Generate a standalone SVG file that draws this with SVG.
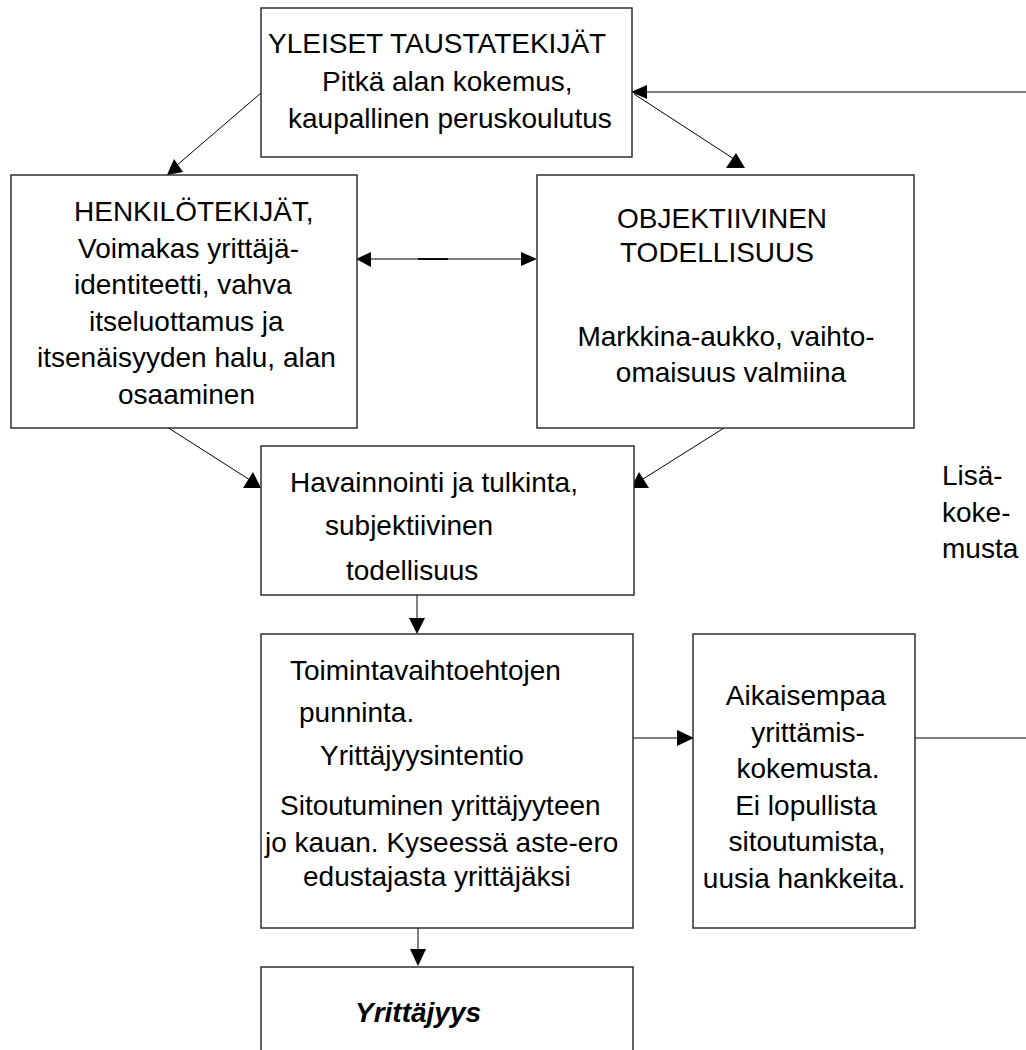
<svg xmlns="http://www.w3.org/2000/svg" width="1026" height="1050" viewBox="0 0 1026 1050">
<style>
.box{fill:#fff;stroke:#222;stroke-width:1.4}
.t{font-family:"Liberation Sans",Arial,sans-serif;font-size:28px;fill:#000}
.m{text-anchor:middle}
.bi{font-weight:bold;font-style:italic}
.ln{stroke:#000;stroke-width:1;fill:none}
.ah{fill:#000;stroke:none}
</style>
<rect width="1026" height="1050" fill="#fff"/>
<g id="connectors">
<line class="ln" x1="261" y1="93" x2="176" y2="166"/>
<polygon class="ah" points="167,175 183,172 174,159"/>
<line class="ln" x1="634" y1="94" x2="734" y2="159"/>
<polygon class="ah" points="736,153 726,168 745,168"/>
<line class="ln" x1="1026" y1="92" x2="645" y2="92"/>
<polygon class="ah" points="631,92 647,85 647,99"/>
<line class="ln" x1="370" y1="259" x2="522" y2="259"/>
<line x1="418" y1="259" x2="448" y2="259" stroke="#000" stroke-width="1.8"/>
<polygon class="ah" points="356,259 371,252 371,267"/>
<polygon class="ah" points="537,259 521,252 521,266"/>
<line class="ln" x1="167" y1="427" x2="250" y2="480"/>
<polygon class="ah" points="253,472 243,488 261,488"/>
<line class="ln" x1="724" y1="428" x2="643" y2="479"/>
<polygon class="ah" points="639,472 631,488 649,488"/>
<line class="ln" x1="417" y1="595" x2="417" y2="620"/>
<polygon class="ah" points="417,634 409,618 425,618"/>
<line class="ln" x1="418" y1="928" x2="418" y2="950"/>
<polygon class="ah" points="418,966 410,949 426,949"/>
<line class="ln" x1="633" y1="738" x2="680" y2="738"/>
<polygon class="ah" points="694,738 677,730 677,746"/>
<line class="ln" x1="915" y1="738" x2="1026" y2="738"/>
</g>
<g id="yleiset">
<rect class="box" x="261" y="8" width="371" height="149"/>
<text class="t" x="268" y="53">YLEISET TAUSTATEKIJÄT</text>
<text class="t" x="322" y="91">Pitkä alan kokemus,</text>
<text class="t" x="288" y="128">kaupallinen peruskoulutus</text>
</g>
<g id="henkilo">
<rect class="box" x="11" y="175" width="346" height="253"/>
<text class="t" x="74" y="221">HENKILÖTEKIJÄT,</text>
<text class="t" x="78" y="258">Voimakas yrittäjä-</text>
<text class="t" x="74" y="294">identiteetti, vahva</text>
<text class="t" x="89" y="331">itseluottamus ja</text>
<text class="t" x="37" y="367">itsenäisyyden halu, alan</text>
<text class="t" x="118" y="404">osaaminen</text>
</g>
<g id="objektiivinen">
<rect class="box" x="537" y="175" width="377" height="253"/>
<text class="t" x="617" y="228">OBJEKTIIVINEN</text>
<text class="t" x="620" y="262">TODELLISUUS</text>
<text class="t m" x="726" y="346">Markkina-aukko, vaihto-</text>
<text class="t m" x="731" y="382">omaisuus valmiina</text>
</g>
<g id="havainnointi">
<rect class="box" x="261" y="446" width="373" height="149"/>
<text class="t" x="290" y="492">Havainnointi ja tulkinta,</text>
<text class="t" x="325" y="535">subjektiivinen</text>
<text class="t" x="346" y="580">todellisuus</text>
</g>
<g id="toiminta">
<rect class="box" x="261" y="634" width="372" height="294"/>
<text class="t" x="290" y="680">Toimintavaihtoehtojen</text>
<text class="t" x="299" y="722">punninta.</text>
<text class="t" x="320" y="765">Yrittäjyysintentio</text>
<text class="t" x="280" y="815">Sitoutuminen yrittäjyyteen</text>
<text class="t" x="265" y="852">jo kauan. Kyseessä aste-ero</text>
<text class="t" x="303" y="886">edustajasta yrittäjäksi</text>
</g>
<g id="aikaisempaa">
<rect class="box" x="693" y="634" width="222" height="294"/>
<text class="t m" x="806" y="705">Aikaisempaa</text>
<text class="t m" x="808" y="742">yrittämis-</text>
<text class="t m" x="808" y="778">kokemusta.</text>
<text class="t m" x="806" y="815">Ei lopullista</text>
<text class="t m" x="807" y="851">sitoutumista,</text>
<text class="t m" x="804" y="888">uusia hankkeita.</text>
</g>
<g id="yrittajyys">
<rect class="box" x="261" y="967" width="372" height="120"/>
<text class="t bi" x="355" y="1022">Yrittäjyys</text>
</g>
<g id="lisakokemusta">
<text class="t" x="942" y="485">Lisä-</text>
<text class="t" x="942" y="522">koke-</text>
<text class="t" x="942" y="558">musta</text>
</g>
</svg>
